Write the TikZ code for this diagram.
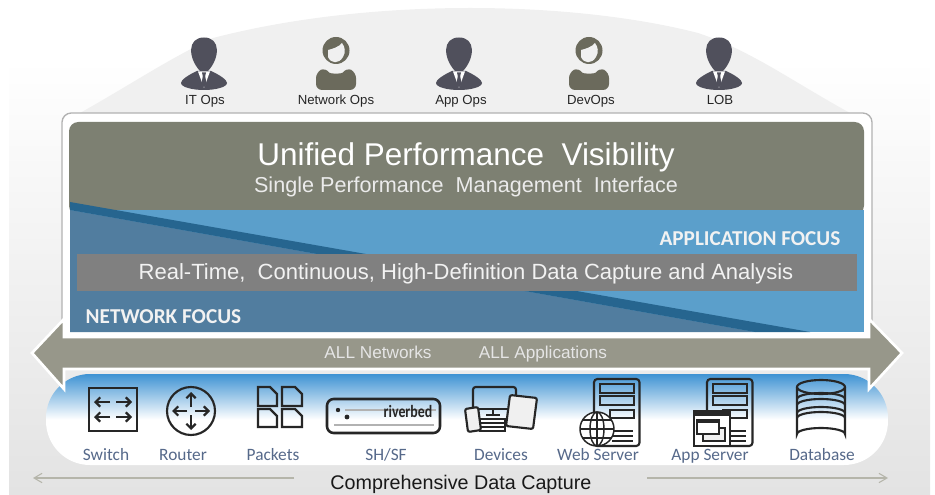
\documentclass[tikz,border=0pt]{standalone}
\usepackage{fontspec}
\usepackage{graphicx}
\setmainfont{Liberation Sans}
\newfontfamily\carlito{Carlito}
\usetikzlibrary{arrows.meta}

\definecolor{panelolive}{HTML}{7D8072}
\definecolor{appblue}{HTML}{5B9FCB}
\definecolor{netblue}{HTML}{517D9F}
\definecolor{stripeblue}{HTML}{26658F}
\definecolor{bandgrey}{HTML}{808080}
\definecolor{arrowgrey}{HTML}{97978A}
\definecolor{mandark}{HTML}{50505C}
\definecolor{womandark}{HTML}{6B6A5C}
\definecolor{labelblue}{HTML}{56698A}
\definecolor{skyblue}{HTML}{3F93D3}
\definecolor{linegrey}{HTML}{B5B5AA}

\tikzset{
  x=0.75pt, y=-0.75pt,
  usertext/.style={anchor=base, font=\fontsize{9.9}{11}\selectfont, text=black!85},
  icontext/.style={anchor=base, font=\carlito\fontsize{13}{15}\selectfont, text=labelblue},
  focustext/.style={font=\carlito\bfseries\fontsize{15.9}{18}\selectfont, text=white!95!black},
  arrowtext/.style={anchor=base, font=\fontsize{12.9}{15}\selectfont, text=white!90!black},
  iconline/.style={line width=1.6pt, draw=black!85},
  manicon/.pic={
    \fill[mandark] (0,37.5) .. controls (-17,37.5) and (-16,58) .. (-4,71) -- (4,71)
      .. controls (16,58) and (17,37.5) .. (0,37.5) -- cycle;
    \fill[mandark] (-7,71) .. controls (-16,75) and (-23,80) .. (-23,83)
      .. controls (-23,87) and (-12,90) .. (0,90)
      .. controls (12,90) and (23,87) .. (23,83)
      .. controls (23,80) and (16,75) .. (7,71) -- cycle;
    \fill[white] (-6,71.5) -- (6,71.5) -- (0,88) -- cycle;
    \fill[mandark] (-2,72.5) -- (2,72.5) -- (1.2,76) -- (2.5,84) -- (0,87.5) -- (-2.5,84) -- (-1.2,76) -- cycle;
  },
  womanicon/.pic={
    \fill[womandark] (0,50.5) circle (13.5);
    \fill[black!6] (-8,50) .. controls (-4,49) and (3,47) .. (6,43)
      .. controls (9,47) and (10,52) .. (7,57)
      .. controls (3,64) and (-5,64) .. (-8,57) -- cycle;
    \fill[womandark, rounded corners=4.5pt] (-20,90) -- (-20,72) -- (-10,67.5)
      .. controls (-6,74) and (6,74) .. (10,67.5) -- (20,72) -- (20,90) -- cycle;
  },
  servericon/.pic={
    \draw[iconline, rounded corners=2.5pt] (0,379) rectangle (45.5,446);
    \draw[iconline] (6,384) rectangle (40,393);
    \draw[iconline] (6,396) rectangle (40,405);
    \draw[iconline] (16,410) rectangle (40,418);
    \draw[iconline] (18,431) -- (39,431);
    \draw[iconline] (18,436) -- (39,436);
    \draw[iconline] (18,441) -- (39,441);
  },
}

\begin{document}
\begin{tikzpicture}
  \useasboundingbox (0,0) rectangle (935,495);

  % backdrop and dome
  \shade[top color=white, bottom color=black!11] (9,60) rectangle (930,495);
  \fill[black!6] (80,113) .. controls (130,85) and (170,58) .. (213,38)
    .. controls (290,18) and (380,8) .. (470,8)
    .. controls (560,8) and (640,18) .. (698,33)
    .. controls (750,50) and (790,80) .. (850,113) -- cycle;

  \path (204,0) coordinate (P1);
  \path (336,0) coordinate (P2);
  \path (459,0) coordinate (P3);
  \path (589,0) coordinate (P4);
  \path (719,0) coordinate (P5);

  \pic at (P1) {manicon};
  \pic at (P2) {womanicon};
  \pic at (P3) {manicon};
  \pic at (P4) {womanicon};
  \pic at (P5) {manicon};

  \node[usertext] (itops) at (205,105) {IT Ops};
  \node[usertext] (netops) at (336,105) {Network Ops};
  \node[usertext] (appops) at (461,105) {App Ops};
  \node[usertext] (devops) at (591,105) {DevOps};
  \node[usertext] (lob) at (720,105) {LOB};

  % main panel
  \draw[draw=black!30, fill=white, line width=1pt, rounded corners=7pt] (62,113) rectangle (872,345);
  \fill[panelolive, rounded corners=7pt] (69,122) -- (864,122) -- (864,215) -- (69,215) -- cycle;
  \fill[appblue] (70,210) rectangle (864,332);
  \fill[netblue] (70,210) -- (755,332) -- (70,332) -- cycle;
  \fill[stripeblue] (70,202) -- (810,332) -- (755,332) -- (70,210) -- cycle;
  \fill[bandgrey] (77,254) rectangle (857,291);

  \node[anchor=base, font=\fontsize{23.6}{28}\selectfont, text=white] (title) at (466,166) {Unified Performance\ \ Visibility};
  \node[anchor=base, font=\fontsize{16.2}{18}\selectfont, text=white!92!black] (subtitle) at (466,193) {Single Performance\ \ Management\ \ Interface};
  \node[focustext, anchor=base east] (appfocus) at (845,246) {APPLICATION FOCUS};
  \node[anchor=base, font=\fontsize{16.5}{18}\selectfont, text=white!95!black] (capture) at (466,280) {Real-Time,\ \ Continuous, High-Definition Data Capture and Analysis};
  \node[focustext, anchor=base west] (netfocus) at (81,324) {NETWORK FOCUS};

  % data sources
  \shade[top color=skyblue, bottom color=white, middle color=white, rounded corners=33pt]
    (46,374) rectangle (888,465);

  % double arrow
  \draw[draw=white, fill=arrowgrey, line width=2pt, line join=miter]
    (32,353) -- (64,319) -- (64,337) -- (869,337) -- (869,319) -- (902,353)
    -- (869,389) -- (869,369) -- (64,369) -- (64,389) -- cycle;
  \node[arrowtext] (allnet) at (378,358) {ALL Networks};
  \node[arrowtext] (allapp) at (543,358) {ALL Applications};

  % switch
  \draw[iconline, line width=2pt] (89,388) rectangle (137,431);
  \foreach \y in {402,417} {
    \draw[iconline, -{Straight Barb[length=3.5pt]}] (110,\y) -- (94,\y);
    \draw[iconline, -{Straight Barb[length=3.5pt]}] (116,\y) -- (132,\y);
  }
  \node[icontext] (switch) at (106,460) {Switch};

  % router
  \draw[iconline] (191,411) circle (24);
  \foreach \a in {0,90,180,270} {
    \draw[iconline, -{Straight Barb[length=3.5pt]}] (191,411) ++(\a:4) -- ++(\a:15);
  }
  \node[icontext] (router) at (183,460) {Router};

  % packets
  \draw[iconline] (258,387) -- (270,387) -- (277,394) -- (277,406) -- (258,406) -- cycle;
  \draw[iconline] (282,387) -- (295,387) -- (302,394) -- (302,406) -- (282,406) -- cycle;
  \draw[iconline] (258,409) -- (270,409) -- (277,416) -- (277,427) -- (258,427) -- cycle;
  \draw[iconline] (282,409) -- (295,409) -- (302,416) -- (302,427) -- (282,427) -- cycle;
  \node[icontext] (packets) at (273,460) {Packets};

  % steelhead
  \draw[iconline, line width=1.9pt, rounded corners=5pt] (327,399) rectangle (440,433);
  \draw[black!30, line width=1pt] (345,410) -- (436,410);
  \draw[black!30, line width=1pt] (334,425) -- (434,425);
  \fill[black!85] (338,410) circle (2.2);
  \fill[black!85] (347,417) circle (2.4);
  \node[font=\carlito\bfseries\fontsize{13}{14}\selectfont, text=black!85, inner sep=0pt] (riverbed) at (408,411) {\scalebox{0.8}[1]{riverbed}};
  \node[icontext] (shsf) at (386,460) {SH/SF};

  % devices
  \draw[iconline, rounded corners=2pt] (473,408) -- (473,387) -- (516,387) -- (516,400);
  \draw[iconline] (473,409) -- (508,409);
  \draw[iconline] (493,409) -- (493,414);
  \draw[iconline] (486,415) -- (500,415);
  \draw[iconline, fill=white] (480,419) rectangle (505,431);
  \draw[iconline, line width=0.8pt] (480,423) -- (505,423);
  \draw[iconline, line width=0.8pt] (480,427) -- (505,427);
  \draw[iconline, fill=black!6, rounded corners=1.5pt] (510,395) -- (537,398) -- (533,429) -- (506,426) -- cycle;
  \draw[iconline, fill=black!6, rounded corners=1.5pt] (465,409) -- (478,407) -- (481,430) -- (468,432) -- cycle;
  \node[icontext] (devices) at (501,460) {Devices};

  % web server
  \pic at (594,0) {servericon};
  \draw[iconline, line width=1.1pt, fill=white] (597,429) circle (17);
  \draw[iconline, line width=1.1pt] (597,429) ellipse (7 and 17);
  \draw[iconline, line width=1.1pt] (597,412) -- (597,446);
  \draw[iconline, line width=1.1pt] (580,429) -- (614,429);
  \draw[iconline, line width=1.1pt] (583,420) -- (611,420);
  \draw[iconline, line width=1.1pt] (583,438) -- (611,438);
  \node[icontext] (webserver) at (598,460) {Web Server};

  % app server
  \pic at (707,0) {servericon};
  \draw[iconline, line width=1pt, fill=white] (694,411) rectangle (730,446);
  \fill[black!85] (694,411) rectangle (730,416);
  \draw[iconline, line width=1pt, fill=black!6] (703,428) rectangle (725,441);
  \draw[iconline, line width=1pt, fill=white] (697,420) rectangle (719,434);
  \fill[black!85] (697,420) rectangle (719,423);
  \node[icontext] (appserver) at (710,460) {App Server};

  % database
  \draw[iconline] (797,387) -- (797,434) arc[start angle=180, end angle=360, x radius=24, y radius=6] -- (845,387);
  \draw[iconline] (821,387) ellipse (24 and 7);
  \foreach \y in {399,405,413,418} {
    \draw[iconline] (797,\y) arc[start angle=180, end angle=360, x radius=24, y radius=6];
  }
  \node[icontext] (database) at (822,460) {Database};

  % bottom line
  \node[anchor=base, font=\fontsize{14.8}{17}\selectfont, text=black!90] (compre) at (461,489) {Comprehensive Data Capture};
  \path (294,478) coordinate (A1);
  \path (33,478) coordinate (A2);
  \path (647,478) coordinate (A3);
  \path (888,478) coordinate (A4);
  \draw[linegrey, line width=0.8pt, -{Straight Barb[length=6pt,width=7pt]}] (A1) -- (A2);
  \draw[linegrey, line width=0.8pt, -{Straight Barb[length=6pt,width=7pt]}] (A3) -- (A4);

\end{tikzpicture}
\end{document}
